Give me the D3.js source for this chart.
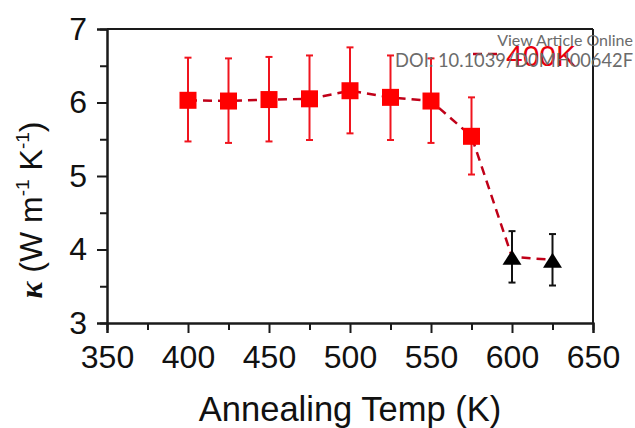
<!DOCTYPE html>
<html>
<head>
<meta charset="utf-8">
<script src="https://cdn.jsdelivr.net/npm/d3@7"></script>
<style>
  body { margin: 0; background: #fff; }
  svg { display: block; font-family: "Liberation Sans", Arial, sans-serif; }
</style>
</head>
<body>
<div class="chart"></div>
<script>
// annealing temperature (K)
var temps = [400, 425, 450, 475, 500, 525, 550, 575, 600, 625];
// thermal conductivity kappa (W m-1 K-1)
var kappa = [6.03, 6.02, 6.04, 6.05, 6.16, 6.07, 6.02, 5.54, 3.90, 3.86];
var kappaHi = [6.61, 6.60, 6.62, 6.64, 6.75, 6.64, 6.60, 6.07, 4.25, 4.21];
var kappaLo = [5.47, 5.45, 5.47, 5.49, 5.58, 5.49, 5.45, 5.02, 3.55, 3.51];
var phase = ['sq', 'sq', 'sq', 'sq', 'sq', 'sq', 'sq', 'sq', 'tri', 'tri'];
var xTicks = [350, 400, 450, 500, 550, 600, 650];
var yTicks = [3, 4, 5, 6, 7];
var legendLabel = '400K';

var W = 635, H = 428;
var svg = d3.select('.chart').append('svg')
    .attr('width', W)
    .attr('height', H);

var x = d3.scaleLinear().domain([350, 650]).range([107, 593]);
var y = d3.scaleLinear().domain([3, 7]).range([323, 29]);

var axisColor = '#1a1a1a';

// frame top + right
svg.append('line')
    .attr('x1', x(350)).attr('x2', x(650))
    .attr('y1', y(7)).attr('y2', y(7))
    .attr('stroke', axisColor).attr('stroke-width', 2);
svg.append('line')
    .attr('x1', x(650)).attr('x2', x(650))
    .attr('y1', y(7)).attr('y2', y(3))
    .attr('stroke', axisColor).attr('stroke-width', 2);

// minor ticks
var xAxisMinor = d3.axisBottom(x).tickValues(d3.range(375, 650, 50)).tickSize(7).tickFormat('');
var yAxisMinor = d3.axisLeft(y).tickValues(d3.range(3.5, 7, 1)).tickSize(7).tickFormat('');
svg.append('g').attr('transform', 'translate(0,' + y(3) + ')').call(xAxisMinor);
svg.append('g').attr('transform', 'translate(' + x(350) + ',0)').call(yAxisMinor);

var xAxis = d3.axisBottom(x).tickValues(xTicks).tickSize(10).tickPadding(12).tickFormat(d3.format('d'));
var yAxis = d3.axisLeft(y).tickValues(yTicks).tickSize(10).tickPadding(10).tickFormat(d3.format('d'));

var gx = svg.append('g').attr('transform', 'translate(0,' + y(3) + ')').call(xAxis);
var gy = svg.append('g').attr('transform', 'translate(' + x(350) + ',0)').call(yAxis);

svg.selectAll('.domain').attr('stroke', axisColor).attr('stroke-width', 2);
svg.selectAll('.tick line').attr('stroke', axisColor).attr('stroke-width', 2);
svg.selectAll('.tick text')
    .attr('font-family', '"Liberation Sans", Arial, sans-serif')
    .attr('font-size', 32)
    .attr('fill', '#111');

// axis titles
svg.append('text')
    .attr('x', (x(350) + x(650)) / 2)
    .attr('y', 421)
    .attr('text-anchor', 'middle')
    .attr('font-size', 34.5)
    .attr('fill', '#111')
    .text('Annealing Temp (K)');

var yt = svg.append('text')
    .attr('transform', 'translate(42,' + 210 + ') rotate(-90)')
    .attr('text-anchor', 'middle')
    .attr('font-size', 32)
    .attr('fill', '#111');
yt.append('tspan')
    .attr('font-family', '"Liberation Serif", serif')
    .attr('font-weight', 'bold')
    .attr('font-style', 'italic')
    .text('\u03ba');
yt.append('tspan').text(' (W m');
yt.append('tspan').attr('font-size', 19).attr('dy', -13).text('-1');
yt.append('tspan').attr('dy', 13).text(' K');
yt.append('tspan').attr('font-size', 19).attr('dy', -13).text('-1');
yt.append('tspan').attr('dy', 13).text(')');

var data = temps.map(function(t, i) {
  return { t: t, k: kappa[i], hi: kappaHi[i], lo: kappaLo[i], m: phase[i] };
});

// dashed connecting line
var line = d3.line()
    .x(function(d) { return x(d.t); })
    .y(function(d) { return y(d.k); });
svg.append('path')
    .datum(data)
    .attr('d', line)
    .attr('fill', 'none')
    .attr('stroke', '#c00018')
    .attr('stroke-width', 2.5)
    .attr('stroke-dasharray', '9,6');

// error bars
var eb = svg.selectAll('.eb').data(data).enter().append('g').attr('class', 'eb');
eb.append('line')
    .attr('x1', function(d) { return x(d.t); })
    .attr('x2', function(d) { return x(d.t); })
    .attr('y1', function(d) { return y(d.hi); })
    .attr('y2', function(d) { return y(d.lo); });
eb.append('line')
    .attr('x1', function(d) { return x(d.t) - 3.5; })
    .attr('x2', function(d) { return x(d.t) + 3.5; })
    .attr('y1', function(d) { return y(d.hi); })
    .attr('y2', function(d) { return y(d.hi); });
eb.append('line')
    .attr('x1', function(d) { return x(d.t) - 3.5; })
    .attr('x2', function(d) { return x(d.t) + 3.5; })
    .attr('y1', function(d) { return y(d.lo); })
    .attr('y2', function(d) { return y(d.lo); });
eb.selectAll('line')
    .attr('stroke', function() { return d3.select(this.parentNode).datum().m === 'sq' ? '#f0141e' : '#111'; })
    .attr('stroke-width', 2);

// markers
svg.selectAll('.sq').data(data.filter(function(d) { return d.m === 'sq'; }))
  .enter().append('rect')
    .attr('x', function(d) { return x(d.t) - 8.5; })
    .attr('y', function(d) { return y(d.k) - 8.5; })
    .attr('width', 17)
    .attr('height', 17)
    .attr('fill', '#ff0000');

svg.selectAll('.tri').data(data.filter(function(d) { return d.m === 'tri'; }))
  .enter().append('path')
    .attr('transform', function(d) { return 'translate(' + x(d.t) + ',' + y(d.k) + ')'; })
    .attr('d', 'M0,-7L9.5,8L-9.5,8Z')
    .attr('fill', '#000');

// legend
svg.append('line')
    .attr('x1', 473).attr('x2', 502)
    .attr('y1', 54).attr('y2', 54)
    .attr('stroke', '#c00018')
    .attr('stroke-width', 2.5)
    .attr('stroke-dasharray', '9,6');
svg.append('text')
    .attr('x', 506).attr('y', 66)
    .attr('font-size', 30)
    .attr('fill', '#e8000c')
    .text(legendLabel);

// watermark
var wm = svg.append('g')
    .attr('font-family', 'Lato, "Open Sans", sans-serif')
    .attr('fill', '#6b6b6b')
    .attr('text-anchor', 'end');
wm.append('text').attr('x', 633).attr('y', 46).attr('font-size', 16).text('View Article Online');
wm.append('text').attr('x', 633).attr('y', 67).attr('font-size', 18.3).text('DOI: 10.1039/D0MH00642F');
</script>
</body>
</html>
